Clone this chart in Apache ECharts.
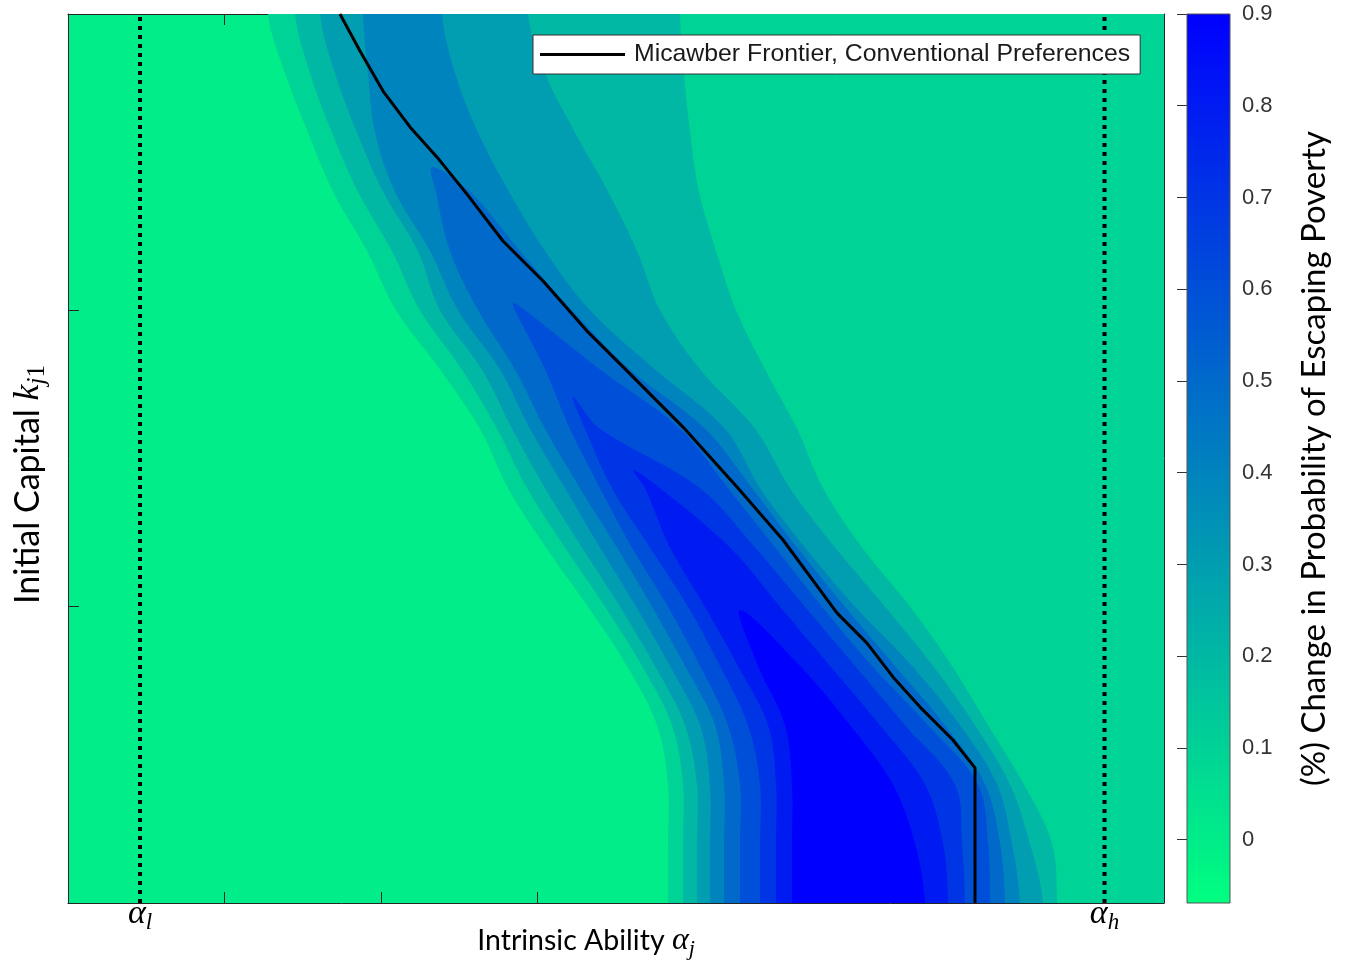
<!DOCTYPE html>
<html>
<head>
<meta charset="utf-8">
<script src="https://cdn.jsdelivr.net/npm/echarts@6/dist/echarts.min.js"></script>
<style>
  html, body { margin: 0; padding: 0; background: #ffffff; }
  #chart { width: 1347px; height: 964px; }
</style>
</head>
<body>
<div id="chart"></div>
<script>
// ---- Contour surface: % change in probability of escaping poverty ----
// Capital values (top to bottom) at which the contour edges are sampled
const capitalRows = [3.0, 2.8, 2.6, 2.4, 2.2, 2.0, 1.8, 1.6, 1.4, 1.2, 1.0, 0.8, 0.6, 0.4, 0.2, 0.0];

// Contour levels (the lowest one fills the whole plane)
const levels = [0, 0.1, 0.2, 0.3, 0.4, 0.5, 0.6, 0.7, 0.8, 0.9];

// Ability at which each level region starts (left edge) and ends (right edge), per capital row
const left01 = [1.277, 1.386, 1.533, 1.693, 1.910, 2.095, 2.376, 2.631, 2.810, 3.053, 3.321, 3.570, 3.762, 3.832, 3.832, 3.832];
const left02 = [1.450, 1.546, 1.686, 1.852, 2.069, 2.248, 2.516, 2.740, 2.932, 3.174, 3.430, 3.666, 3.858, 3.928, 3.928, 3.928];
const right02 = [3.909, 3.934, 3.973, 4.030, 4.139, 4.267, 4.452, 4.656, 4.822, 5.071, 5.378, 5.646, 5.876, 6.106, 6.285, 6.317];
const left03 = [1.610, 1.705, 1.846, 2.012, 2.235, 2.376, 2.644, 2.836, 3.047, 3.283, 3.526, 3.749, 3.941, 4.017, 4.017, 4.017];
const right03 = [2.938, 3.047, 3.238, 3.449, 3.634, 3.781, 4.037, 4.388, 4.611, 4.899, 5.218, 5.525, 5.793, 6.016, 6.144, 6.227];
const left04 = [1.884, 1.916, 1.961, 2.088, 2.312, 2.491, 2.759, 2.951, 3.174, 3.398, 3.628, 3.845, 4.037, 4.100, 4.100, 4.100];
const right04 = [2.389, 2.472, 2.619, 2.817, 3.047, 3.334, 3.749, 4.196, 4.420, 4.707, 5.027, 5.391, 5.697, 5.934, 6.029, 6.080];
const left05 = [null, null, null, 2.350, 2.440, 2.619, 2.855, 3.047, 3.270, 3.506, 3.730, 3.941, 4.132, 4.190, 4.190, 4.190];
const right05 = [null, null, null, 2.568, 2.887, 3.219, 3.589, 4.069, 4.369, 4.656, 4.963, 5.282, 5.601, 5.857, 5.953, 5.985];
const left06 = [null, null, null, null, null, 2.855, 3.047, 3.206, 3.398, 3.602, 3.832, 4.037, 4.215, 4.292, 4.292, 4.292];
const right06 = [null, null, null, null, null, 2.919, 3.398, 3.909, 4.215, 4.516, 4.816, 5.135, 5.493, 5.812, 5.876, 5.889];
const left07 = [null, null, null, null, null, null, null, 3.302, 3.474, 3.717, 3.960, 4.164, 4.343, 4.420, 4.420, 4.420];
const right07 = [null, null, null, null, null, null, null, 3.398, 4.037, 4.388, 4.707, 5.027, 5.346, 5.665, 5.710, 5.729];
const left08 = [null, null, null, null, null, null, null, null, 3.685, 3.845, 4.068, 4.279, 4.471, 4.522, 4.522, 4.522];
const right08 = [null, null, null, null, null, null, null, null, 3.781, 4.228, 4.548, 4.867, 5.186, 5.474, 5.589, 5.621];
const left09 = [null, null, null, null, null, null, null, null, null, null, null, 4.407, 4.579, 4.624, 4.624, 4.624];
const right09 = [null, null, null, null, null, null, null, null, null, null, null, 4.675, 4.995, 5.269, 5.410, 5.474];

// Rounded tops of the inner regions [ability, capital]
const apex05 = [2.325, 2.484];
const apex06 = [2.842, 2.025];
const apex07 = [3.225, 1.708];
const apex08 = [3.609, 1.461];
const apex09 = [4.292, 0.989];

// Micawber frontier under conventional preferences [ability, capital]
const frontierAbility = [1.737, 1.865, 2.012, 2.184, 2.357, 2.548, 2.778, 3.034, 3.315, 3.545, 3.928, 4.273, 4.567, 4.911, 5.103, 5.269, 5.442, 5.652, 5.793, 5.793];
const frontierCapital = [3.000, 2.875, 2.740, 2.619, 2.517, 2.392, 2.234, 2.099, 1.930, 1.809, 1.606, 1.404, 1.225, 0.979, 0.877, 0.763, 0.661, 0.550, 0.456, 0.000];

// Ability bounds
const alphaLow = 0.46;
const alphaHigh = 6.62;

// Colour bar range and ticks
const colorMin = -0.069;
const colorMax = 0.9;
const colorTicks = [0, 0.1, 0.2, 0.3, 0.4, 0.5, 0.6, 0.7, 0.8, 0.9];

const legendName = 'Micawber Frontier, Conventional Preferences';

// ---- helpers ----
const ABILITY_MAX = 7, CAPITAL_MAX = 3;

// reversed "winter" colour map: green at low values, blue at high values
function winter(v) {
  const t = Math.min(1, Math.max(0, (v - colorMin) / (colorMax - colorMin)));
  return 'rgb(0,' + Math.round(255 * (1 - t)) + ',' + Math.round(255 * (0.5 + 0.5 * t)) + ')';
}

const regions = [
  { level: levels[1], left: left01, right: null, apex: null },
  { level: levels[2], left: left02, right: right02, apex: null },
  { level: levels[3], left: left03, right: right03, apex: null },
  { level: levels[4], left: left04, right: right04, apex: null },
  { level: levels[5], left: left05, right: right05, apex: apex05 },
  { level: levels[6], left: left06, right: right06, apex: apex06 },
  { level: levels[7], left: left07, right: right07, apex: apex07 },
  { level: levels[8], left: left08, right: right08, apex: apex08 },
  { level: levels[9], left: left09, right: right09, apex: apex09 }
];

// Outline of one level region in data units; open edges run past the plot and get clipped
function regionOutline(r) {
  const pad = 0.3;
  const idx = [];
  r.left.forEach((v, i) => { if (v !== null) idx.push(i); });
  const first = idx[0], last = idx[idx.length - 1];
  const rightAt = (i) => (r.right === null ? ABILITY_MAX + pad : r.right[i]);
  const pts = [];
  if (r.apex) pts.push(r.apex);
  if (first === 0) pts.push([r.left[0], CAPITAL_MAX + pad]);
  idx.forEach(i => pts.push([r.left[i], capitalRows[i]]));
  if (last === capitalRows.length - 1) {
    pts.push([r.left[last], -pad]);
    pts.push([rightAt(last), -pad]);
  }
  for (let k = idx.length - 1; k >= 0; k--) {
    const i = idx[k];
    pts.push([rightAt(i), capitalRows[i]]);
  }
  if (first === 0) pts.push([rightAt(0), CAPITAL_MAX + pad]);
  return pts;
}

const frontierData = frontierAbility.map((a, i) => [a, frontierCapital[i]]);

const AXIS_COLOR = '#262626';
const boxAxis = {
  axisLine: { show: true, onZero: false, lineStyle: { color: AXIS_COLOR, width: 1 } },
  axisTick: { show: true, inside: true, length: 11, lineStyle: { color: AXIS_COLOR, width: 1 } },
  splitLine: { show: false },
  nameMoveOverlap: false
};

const chart = echarts.init(document.getElementById('chart'));

chart.setOption({
  backgroundColor: '#ffffff',
  animation: false,
  grid: [
    { left: 68, top: 14, width: 1096, height: 889, show: true, backgroundColor: winter(levels[0]), borderWidth: 0,
      containLabel: false, outerBoundsMode: 'none' },
    { left: 1187, top: 14, width: 43, height: 889, containLabel: false, outerBoundsMode: 'none' }
  ],
  legend: {
    data: [legendName],
    left: 533, top: 35,
    z: 20,
    padding: [7, 10, 7, 7],
    backgroundColor: '#ffffff',
    borderColor: '#333333',
    borderWidth: 1,
    borderRadius: 0,
    icon: 'rect',
    itemWidth: 85, itemHeight: 3,
    textStyle: { fontFamily: 'Liberation Sans', fontSize: 24.8, color: '#1a1a1a', padding: [0, 0, 0, 4] }
  },
  xAxis: [
    Object.assign({}, boxAxis, {
      type: 'value', gridIndex: 0, min: 0, max: ABILITY_MAX, interval: 1, position: 'bottom',
      axisLabel: {
        show: true, customValues: [alphaLow, alphaHigh], margin: -8,
        formatter: v => (Math.abs(v - alphaLow) < 1e-6 ? '{a|α}{s|l}' : '{a|α}{s|h}'),
        rich: {
          a: { fontFamily: 'Liberation Serif', fontStyle: 'italic', fontSize: 34, color: '#000' },
          s: { fontFamily: 'Liberation Serif', fontStyle: 'italic', fontSize: 23, color: '#000', padding: [16, 0, 0, 0] }
        }
      },
      name: '{t|Intrinsic Ability }{a|α}{s|j}',
      nameLocation: 'middle', nameGap: 19,
      nameTextStyle: {
        padding: [0, 60, 0, 0],
        rich: {
          t: { fontFamily: 'Lato', fontSize: 28.5, color: '#000' },
          a: { fontFamily: 'Liberation Serif', fontStyle: 'italic', fontSize: 32, color: '#000' },
          s: { fontFamily: 'Liberation Serif', fontStyle: 'italic', fontSize: 22, color: '#000', padding: [16, 0, 0, 0] }
        }
      }
    }),
    Object.assign({}, boxAxis, {
      type: 'value', gridIndex: 0, min: 0, max: ABILITY_MAX, interval: 1, position: 'top',
      axisLabel: { show: false }
    }),
    {
      type: 'value', gridIndex: 1, min: 0, max: 1, show: false
    }
  ],
  yAxis: [
    Object.assign({}, boxAxis, {
      type: 'value', gridIndex: 0, min: 0, max: CAPITAL_MAX, interval: 1, position: 'left',
      axisLabel: { show: false },
      name: '{t|Initial Capital }{k|k}{s|j}{n|1}',
      nameLocation: 'middle', nameGap: 18, nameRotate: 90,
      nameTextStyle: {
        padding: [0, 52, 0, 0],
        rich: {
          t: { fontFamily: 'Lato', fontSize: 34, color: '#000' },
          k: { fontFamily: 'Liberation Serif', fontStyle: 'italic', fontSize: 36, color: '#000' },
          s: { fontFamily: 'Liberation Serif', fontStyle: 'italic', fontSize: 25, color: '#000', padding: [18, 0, 0, 0] },
          n: { fontFamily: 'Liberation Serif', fontSize: 25, color: '#000', padding: [18, 0, 0, 0] }
        }
      }
    }),
    Object.assign({}, boxAxis, {
      type: 'value', gridIndex: 0, min: 0, max: CAPITAL_MAX, interval: 1, position: 'right',
      axisLabel: { show: false }
    }),
    {
      type: 'value', gridIndex: 1, min: colorMin, max: colorMax, position: 'right',
      nameMoveOverlap: false,
      axisLine: { show: false },
      splitLine: { show: false },
      axisTick: { show: true, inside: true, length: 10, customValues: colorTicks, lineStyle: { color: '#333', width: 1 } },
      axisLabel: {
        show: true, customValues: colorTicks, margin: 12,
        formatter: v => (v === 0 ? '0' : v.toFixed(1)),
        fontFamily: 'Liberation Sans', fontSize: 22, color: '#333333'
      },
      name: '(%) Change in Probability of Escaping Poverty',
      nameLocation: 'middle', nameGap: 68, nameRotate: 90,
      nameTextStyle: { fontFamily: 'Lato', fontSize: 33, color: '#000' }
    }
  ],
  series: [
    {
      type: 'custom',
      name: 'contours',
      xAxisIndex: 0, yAxisIndex: 0,
      clip: true,
      silent: true,
      data: regions.map(r => [r.level]),
      encode: { x: -1, y: -1 },
      renderItem: function (params, api) {
        const r = regions[params.dataIndex];
        const pts = regionOutline(r).map(p => api.coord(p));
        const cs = params.coordSys;
        return {
          type: 'group',
          clipPath: { type: 'rect', shape: { x: cs.x, y: cs.y, width: cs.width, height: cs.height } },
          children: [{
            type: 'polygon',
            shape: { points: pts, smooth: 0.35 },
            style: { fill: winter(r.level), stroke: null }
          }]
        };
      },
      z: 1
    },
    {
      type: 'line',
      name: legendName,
      xAxisIndex: 0, yAxisIndex: 0,
      data: frontierData,
      showSymbol: false, symbol: 'none',
      lineStyle: { color: '#000000', width: 3 },
      itemStyle: { color: '#000000' },
      z: 3
    },
    {
      type: 'line',
      name: 'alphaLow',
      xAxisIndex: 0, yAxisIndex: 0,
      data: [[alphaLow, 0], [alphaLow, CAPITAL_MAX]],
      showSymbol: false, symbol: 'none',
      lineStyle: { color: '#000000', width: 4, type: [4, 5] },
      z: 2
    },
    {
      type: 'line',
      name: 'alphaHigh',
      xAxisIndex: 0, yAxisIndex: 0,
      data: [[alphaHigh, 0], [alphaHigh, CAPITAL_MAX]],
      showSymbol: false, symbol: 'none',
      lineStyle: { color: '#000000', width: 4, type: [4, 5] },
      z: 2
    },
    {
      type: 'custom',
      name: 'colorbar',
      xAxisIndex: 2, yAxisIndex: 2,
      silent: true,
      data: [[0]],
      encode: { x: -1, y: -1 },
      renderItem: function (params, api) {
        const p0 = api.coord([0, colorMax]);
        const p1 = api.coord([1, colorMin]);
        return {
          type: 'rect',
          shape: { x: p0[0], y: p0[1], width: p1[0] - p0[0], height: p1[1] - p0[1] },
          style: {
            fill: new echarts.graphic.LinearGradient(0, 0, 0, 1, [
              { offset: 0, color: winter(colorMax) },
              { offset: 1, color: winter(colorMin) }
            ]),
            stroke: '#555555', lineWidth: 1
          }
        };
      },
      z: 1
    }
  ]
});
</script>
</body>
</html>
